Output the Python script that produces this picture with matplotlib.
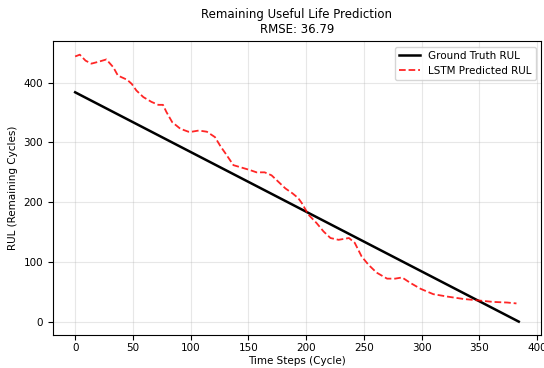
import numpy as np
import matplotlib
matplotlib.use('Agg')
import matplotlib.pyplot as plt

# ground truth RUL (linear countdown)
true_cycles = [0, 384]
true_rul = [384, 0]

# LSTM prediction
pred_cycles = [0, 4, 9, 14, 20, 27, 33, 37, 45, 49, 53, 59, 66, 72, 76, 79, 84, 91,
               98, 101, 107, 114, 121, 126, 130, 137, 144, 151, 157, 164, 170, 176,
               182, 188, 193, 196, 202, 209, 215, 221, 228, 237, 242, 248, 254, 261,
               270, 277, 283, 290, 299, 310, 322, 336, 349, 362, 374, 382]
pred_rul = [444, 447, 437, 432, 435, 439, 426, 412, 405, 398, 387, 376, 368, 363, 363,
            351, 334, 323, 318, 318, 320, 318, 309, 293, 282, 262, 258, 254, 250, 250,
            245, 234, 223, 215, 207, 199, 179, 165, 151, 140, 137, 140, 132, 109, 95,
            82, 72, 72, 74, 65, 55, 46, 42, 38, 35.5, 33, 32, 30.5]

rmse = 36.79

fig = plt.figure(figsize=(5.44, 3.68), dpi=100)
ax = fig.add_axes([0.0974, 0.0897, 0.897, 0.798])

ax.plot(true_cycles, true_rul, color='black', linewidth=1.8, label='Ground Truth RUL')
ax.plot(pred_cycles, pred_rul, color='red', linestyle='--', linewidth=1.3, alpha=0.85,
        label='LSTM Predicted RUL')

ax.set_title(f'Remaining Useful Life Prediction\nRMSE: {rmse:.2f}', fontsize=8.5)
ax.set_xlabel('Time Steps (Cycle)', fontsize=7.5, labelpad=2)
ax.set_ylabel('RUL (Remaining Cycles)', fontsize=7.5)
ax.tick_params(labelsize=7.5)
ax.tick_params(axis='x', pad=2.5)
ax.grid(True, alpha=0.3)
ax.legend(loc='upper right', fontsize=7.5)

fig.savefig('out.png', dpi=100)
